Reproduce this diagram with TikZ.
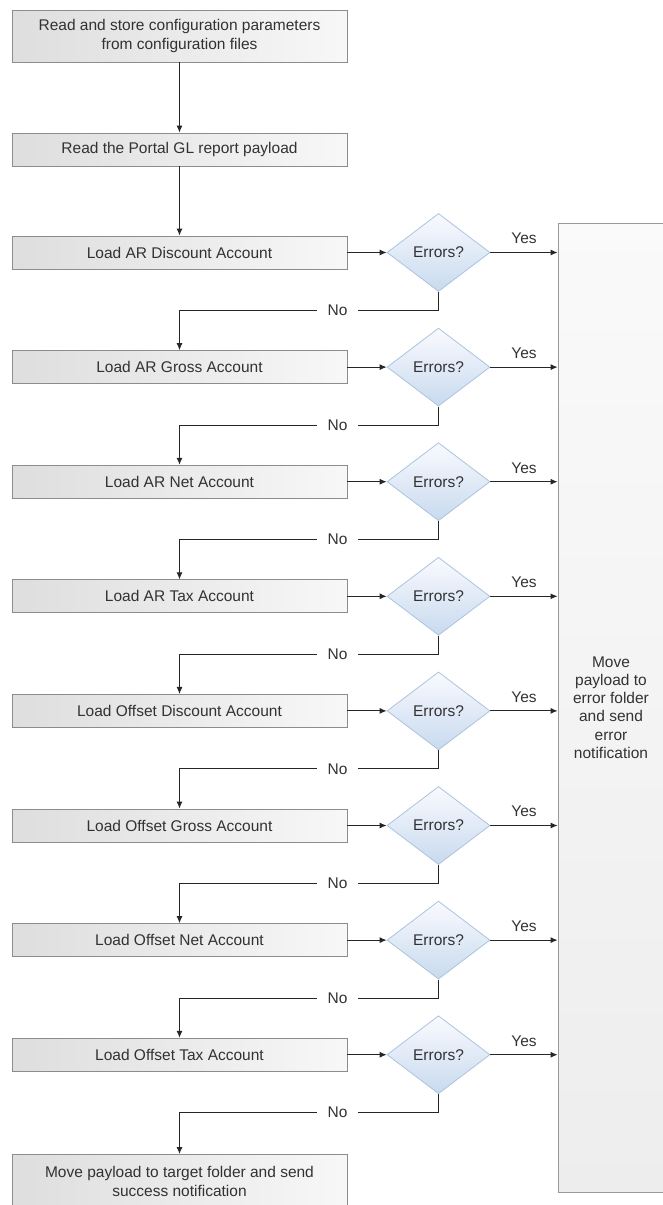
\documentclass[tikz,border=0pt]{standalone}
\usepackage{xcolor}
\usepackage{fontspec}
\setmainfont{Liberation Sans}
\usepackage{tikz}
\usetikzlibrary{shapes,arrows.meta,positioning,calc}

\definecolor{boxedge}{RGB}{140,140,140}
\definecolor{chkedge}{RGB}{170,196,222}
\definecolor{chkfill}{RGB}{200,218,238}
\definecolor{inktext}{RGB}{50,50,50}

\tikzset{
    stepbox/.style={draw=boxedge, line width=0.9pt, left color=black!13, right color=black!3,
        minimum width=335pt, minimum height=33pt, inner sep=0pt, align=center, text=inktext},
    check/.style={diamond, draw=chkedge, line width=0.8pt, top color=blue!2, bottom color=chkfill,
        minimum width=103pt, minimum height=78pt, aspect=1.32, inner sep=0pt, text=inktext},
    failbox/.style={draw=black!40, line width=0.9pt, top color=black!2, bottom color=black!7,
        minimum width=106pt, minimum height=969pt, inner sep=0pt, align=center, text=inktext},
    flow/.style={draw=black!85, line width=0.9pt, -{Latex[length=7pt,width=6pt]}},
    lbl/.style={text=inktext, inner sep=0pt}
}

\begin{document}
\begin{tikzpicture}[x=1pt, y=-1pt, font=\fontsize{15.5}{18.2}\selectfont]
    \useasboundingbox (0,0) rectangle (663,1205);
    \clip (0,0) rectangle (663,1205);

    % Start
    \node[stepbox, minimum height=52pt] (cfg) at (179.5,36)
        {Read and store configuration parameters\\from configuration files};
    \node[stepbox] (payload) at (179.5,149.5) {Read the Portal GL report payload};
    \draw[flow] (cfg) -- (payload);

    % Error path
    \node[failbox] (fail) at (611,707.5)
        {Move\\payload to\\error folder\\and send\\error\\notification};

    % Account loads
    \foreach \acct [count=\i from 0] in {AR Discount, AR Gross, AR Net, AR Tax,
            Offset Discount, Offset Gross, Offset Net, Offset Tax} {
        \pgfmathsetmacro\y{252.5+114.6*\i}
        \node[stepbox] (load\i) at (179.5,\y) {Load \acct\ Account};
        \node[check] (chk\i) at (438.5,\y) {Errors?};
        \draw[flow] (load\i) -- (chk\i);
        \draw[flow] (chk\i.east) -- (chk\i.east -| fail.west)
            node[lbl, midway, above=8pt] {Yes};
    }
    \draw[flow] (payload) -- (load0);

    % Finish
    \node[stepbox, minimum height=54pt, anchor=north] (done) at (179.5,1154)
        {Move payload to target folder and send\\success notification};

    % No branches
    \foreach \i in {0,...,7} {
        \pgfmathtruncatemacro\j{\i+1}
        \ifnum\i<7
            \draw[flow] (chk\i.south) -- ++(0,18.5) -| (load\j.north)
                node[lbl, pos=0.195, fill=white, inner xsep=11pt] {No};
        \else
            \draw[flow] (chk\i.south) -- ++(0,18.5) -| (done.north)
                node[lbl, pos=0.195, fill=white, inner xsep=11pt] {No};
        \fi
    }
\end{tikzpicture}
\end{document}
